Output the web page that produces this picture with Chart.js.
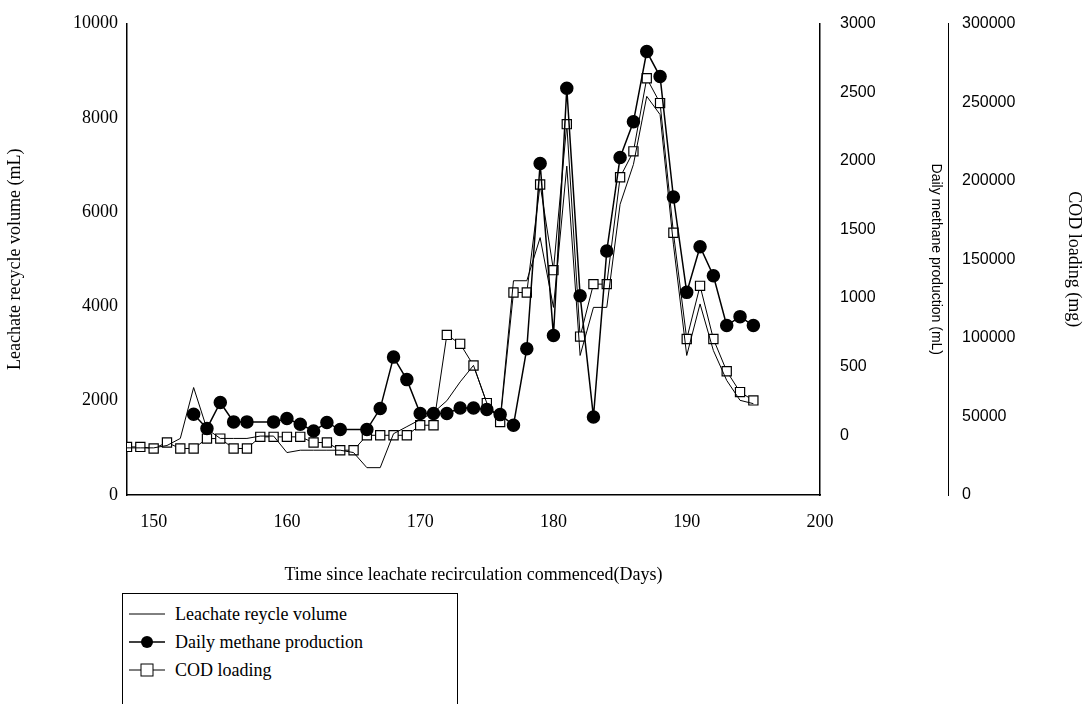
<!DOCTYPE html>
<html>
<head>
<meta charset="utf-8">
<script src="https://cdn.jsdelivr.net/npm/chart.js"></script>
<style>
body { margin: 0; background: #fff; }
#wrap { position: relative; width: 1089px; height: 590px; }
#legend { position: absolute; left: 122px; top: 593px; width: 334px; height: 110px; border: 1px solid #000; border-bottom: none;
  font-family: "Liberation Serif", serif; font-size: 18px; }
#legend div { height: 28px; display: flex; align-items: center; padding-left: 6px; }
#legend svg { margin-right: 10px; }
</style>
</head>
<body>
<div id="wrap"><canvas id="chart" width="1089" height="590"></canvas></div>
<div id="legend">
  <div style="margin-top:6px"><svg width="36" height="12"><line x1="0" y1="6" x2="36" y2="6" stroke="#000" stroke-width="1"/></svg>Leachate reycle volume</div>
  <div><svg width="36" height="14"><line x1="0" y1="7" x2="36" y2="7" stroke="#000" stroke-width="1.5"/><circle cx="18" cy="7" r="6" fill="#000"/></svg>Daily methane production</div>
  <div><svg width="36" height="14"><line x1="0" y1="7" x2="36" y2="7" stroke="#000" stroke-width="1"/><rect x="12" y="1" width="12" height="12" fill="#fff" stroke="#000"/></svg>COD loading</div>
</div>
<script>
const days = [148,149,150,151,152,153,154,155,156,157,158,159,160,161,162,163,164,165,166,167,168,169,170,171,
  172,173,174,175,176,177,178,179,180,181,182,183,184,185,186,187,188,189,190,191,192,193,194,195];
const leachate = [1000,1000,1000,1050,1200,2280,1400,1200,1200,1200,1250,1250,900,950,950,950,950,900,580,580,1300,1450,1600,1750,
  2000,2400,2750,1950,1600,4545,4545,5460,3980,6977,2960,3980,3980,6167,7013,8457,8070,5321,2960,4053,3065,2431,2008,1938];
const methane = [null,null,null,null,null,152,49,238,97,97,null,97,121,80,31,92,41,null,41,194,569,405,158,158,
  158,198,198,187,150,73,630,1980,726,2529,1017,133,1343,2024,2284,2796,2614,1736,1041,1374,1162,799,864,799];
const cod = [30600,30600,29600,33400,29600,29600,35900,35900,29600,29600,37000,37000,37000,37000,33400,33400,28500,28500,38000,38000,38000,38000,44400,44400,
  101900,96200,82400,58500,46500,128900,128900,197600,143100,236000,100800,134200,134200,202200,218700,265200,249400,166900,99300,133100,99300,78800,65500,60200];
const leftTicks = [0,2000,4000,6000,8000,10000];
const methaneTicks = [0,500,1000,1500,2000,2500,3000];
const codTicks = [0,50000,100000,150000,200000,250000,300000];
const xTicks = [150,160,170,180,190,200];

const pts = arr => days.map((d, i) => ({ x: d, y: arr[i] }));
const serif = { family: '"Liberation Serif", serif', size: 18 };
const sans = { family: '"Liberation Sans", sans-serif', size: 16 };
const fixTicks = list => scale => { scale.ticks = list.map(v => ({ value: v })); };
const plain = v => String(v);

new Chart(document.getElementById('chart'), {
  type: 'line',
  data: {
    datasets: [
      { label: 'Leachate reycle volume', data: pts(leachate), yAxisID: 'y', borderColor: '#000', borderWidth: 1, pointRadius: 0 },
      { label: 'Daily methane production', data: pts(methane), yAxisID: 'y1', borderColor: '#000', borderWidth: 1.5,
        pointRadius: 6, pointBackgroundColor: '#000', spanGaps: true },
      { label: 'COD loading', data: pts(cod), yAxisID: 'y2', borderColor: '#000', borderWidth: 1,
        pointStyle: 'rect', pointRadius: 6.5, pointBackgroundColor: '#fff', pointBorderWidth: 1.2 }
    ]
  },
  options: {
    responsive: false, animation: false, devicePixelRatio: 1,
    layout: { padding: { top: 18, right: 0, left: 0, bottom: 0 } },
    plugins: { legend: { display: false }, tooltip: { enabled: false } },
    scales: {
      x: {
        type: 'linear', min: 148, max: 200, afterBuildTicks: fixTicks(xTicks),
        afterFit: s => { s.height = 95; },
        grid: { display: false, drawTicks: true, tickLength: 6, tickColor: '#000' },
        border: { color: '#000', width: 1.5 },
        ticks: { color: '#000', font: serif, padding: 10, callback: plain },
        title: { display: true, text: 'Time since leachate recirculation commenced(Days)', color: '#000', font: serif, padding: { top: 22 } }
      },
      y: {
        position: 'left', min: 0, max: 10000, afterBuildTicks: fixTicks(leftTicks),
        afterFit: s => { s.width = 127; },
        grid: { display: false, tickLength: 6, tickColor: '#000' },
        border: { color: '#000', width: 1.5 },
        ticks: { color: '#000', font: serif, callback: plain },
        title: { display: true, text: 'Leachate recycle volume (mL)', color: '#000', font: serif }
      },
      y1: {
        position: 'right', min: -436, max: 3000, afterBuildTicks: fixTicks(methaneTicks),
        afterFit: s => { s.width = 128; },
        grid: { display: false, tickLength: 6, tickColor: '#000' },
        border: { color: '#000', width: 1.5 },
        ticks: { color: '#000', font: sans, padding: 14, callback: plain },
        title: { display: true, text: 'Daily methane production (mL)', color: '#000', font: { family: '"Liberation Sans", sans-serif', size: 14 }, padding: { bottom: 22 } }
      },
      y2: {
        position: 'right', min: 0, max: 300000, afterBuildTicks: fixTicks(codTicks),
        afterFit: s => { s.width = 141; },
        grid: { display: false, tickLength: 6, tickColor: '#000' },
        border: { color: '#000', width: 1 },
        ticks: { color: '#000', font: sans, padding: 8, callback: plain },
        title: { display: true, text: 'COD loading (mg)', color: '#000', font: serif }
      }
    }
  }
});
</script>
</body>
</html>
